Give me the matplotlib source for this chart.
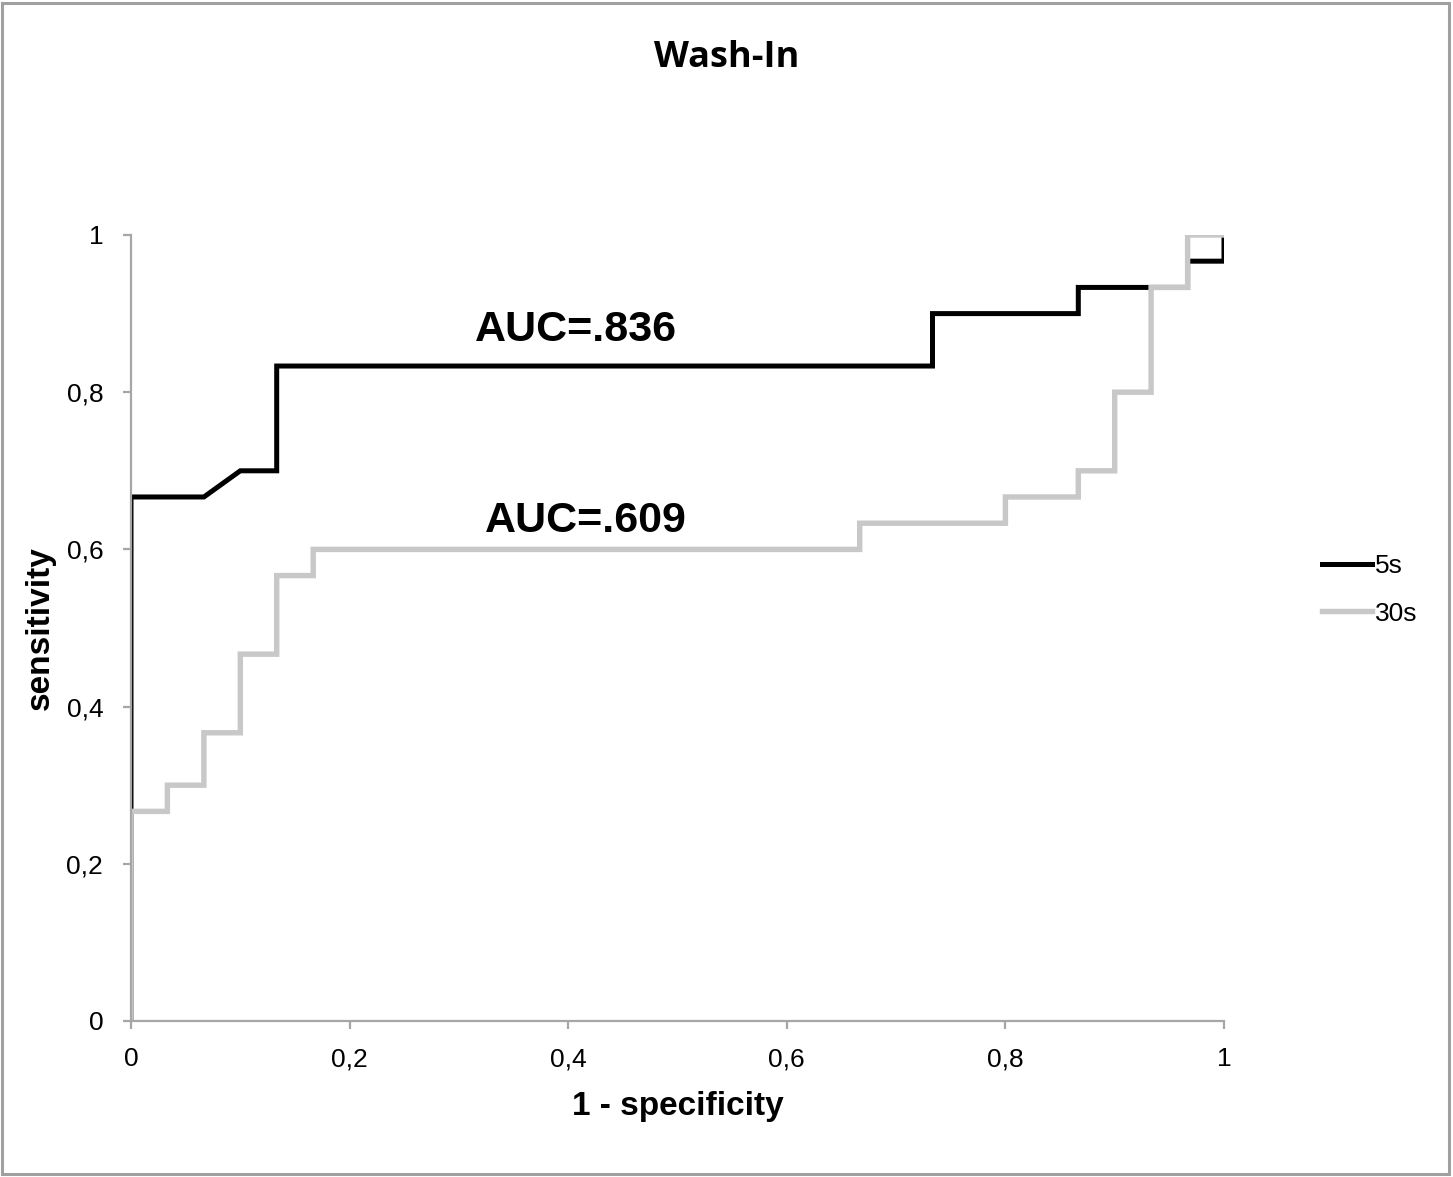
import numpy as np
import matplotlib
matplotlib.use("Agg")
import matplotlib.pyplot as plt
from matplotlib.patches import Rectangle

# ROC step curves (steps of 1/30)
fpr_5s = [0, 0, 0.0667, 0.1, 0.1333, 0.1333, 0.7333, 0.7333, 0.8667, 0.8667, 0.9667, 0.9667, 1, 1]
tpr_5s = [0, 0.6667, 0.6667, 0.7, 0.7, 0.8333, 0.8333, 0.9, 0.9, 0.9333, 0.9333, 0.9667, 0.9667, 1]

fpr_30s = [0, 0, 0.0333, 0.0333, 0.0667, 0.0667, 0.1, 0.1, 0.1333, 0.1333, 0.1667, 0.1667,
           0.6667, 0.6667, 0.8, 0.8, 0.8667, 0.8667, 0.9, 0.9, 0.9333, 0.9333, 0.9667, 0.9667, 1]
tpr_30s = [0, 0.2667, 0.2667, 0.3, 0.3, 0.3667, 0.3667, 0.4667, 0.4667, 0.5667, 0.5667, 0.6,
           0.6, 0.6333, 0.6333, 0.6667, 0.6667, 0.7, 0.7, 0.8, 0.8, 0.9333, 0.9333, 1, 1]

series_names = ["5s", "30s"]
auc_labels = ["AUC=.836", "AUC=.609"]
auc_pos = [(0.407, 0.879), (0.416, 0.636)]

ticks = [0, 0.2, 0.4, 0.6, 0.8, 1]
tick_labels = ["0", "0,2", "0,4", "0,6", "0,8", "1"]

plt.rcParams['font.family'] = ['Liberation Sans', 'DejaVu Sans']

fig = plt.figure(figsize=(14.53, 11.77), dpi=100)
ax = fig.add_axes([131/1453, 1 - 1021/1177, (1224-131)/1453, (1021-235)/1177])

l1, = ax.plot(fpr_5s, tpr_5s, color="black", lw=3.6, solid_joinstyle="miter", label=series_names[0])
l2, = ax.plot(fpr_30s, tpr_30s, color="#c8c8c8", lw=3.9, solid_joinstyle="miter", label=series_names[1])
l1.set_snap(False)
l2.set_snap(False)

for txt, (x, y) in zip(auc_labels, auc_pos):
    ax.text(x, y, txt, fontsize=31, fontweight="bold", ha="center", va="center")

ax.set_xlim(0, 1)
ax.set_ylim(0, 1)
ax.set_xticks(ticks)
ax.set_xticklabels(tick_labels)
ax.set_yticks(ticks)
ax.set_yticklabels(tick_labels)

for s in ["top", "right"]:
    ax.spines[s].set_visible(False)
for s in ["left", "bottom"]:
    ax.spines[s].set_color("#a6a6a6")
    ax.spines[s].set_linewidth(1.6)
ax.tick_params(axis="both", direction="out", length=6, width=1.6, color="#a6a6a6",
               labelsize=19)
ax.tick_params(axis="y", pad=14)
ax.tick_params(axis="x", pad=13)

ax.set_xlabel("1 - specificity", fontsize=24, fontweight="bold", labelpad=14)
ax.set_ylabel("sensitivity", fontsize=24, fontweight="bold", labelpad=8)

fig.text(727/1453, 1 - 58/1177, "Wash-In", fontsize=26, fontweight="bold",
         family=["Open Sans", "DejaVu Sans"], ha="center", va="center")

fig.legend(handles=[l1, l2], loc="center left", bbox_to_anchor=(1298/1453, 1 - 590/1177),
           frameon=False, fontsize=19, handlelength=1.9, handletextpad=0.1, labelspacing=0.88)

# outer border of the chart
fig.patches.append(Rectangle((2/1453, 3/1177), 1447/1453, 1171/1177, transform=fig.transFigure,
                             fill=False, edgecolor="#a0a0a0", lw=2.2))

fig.savefig("out.png", dpi=100)
